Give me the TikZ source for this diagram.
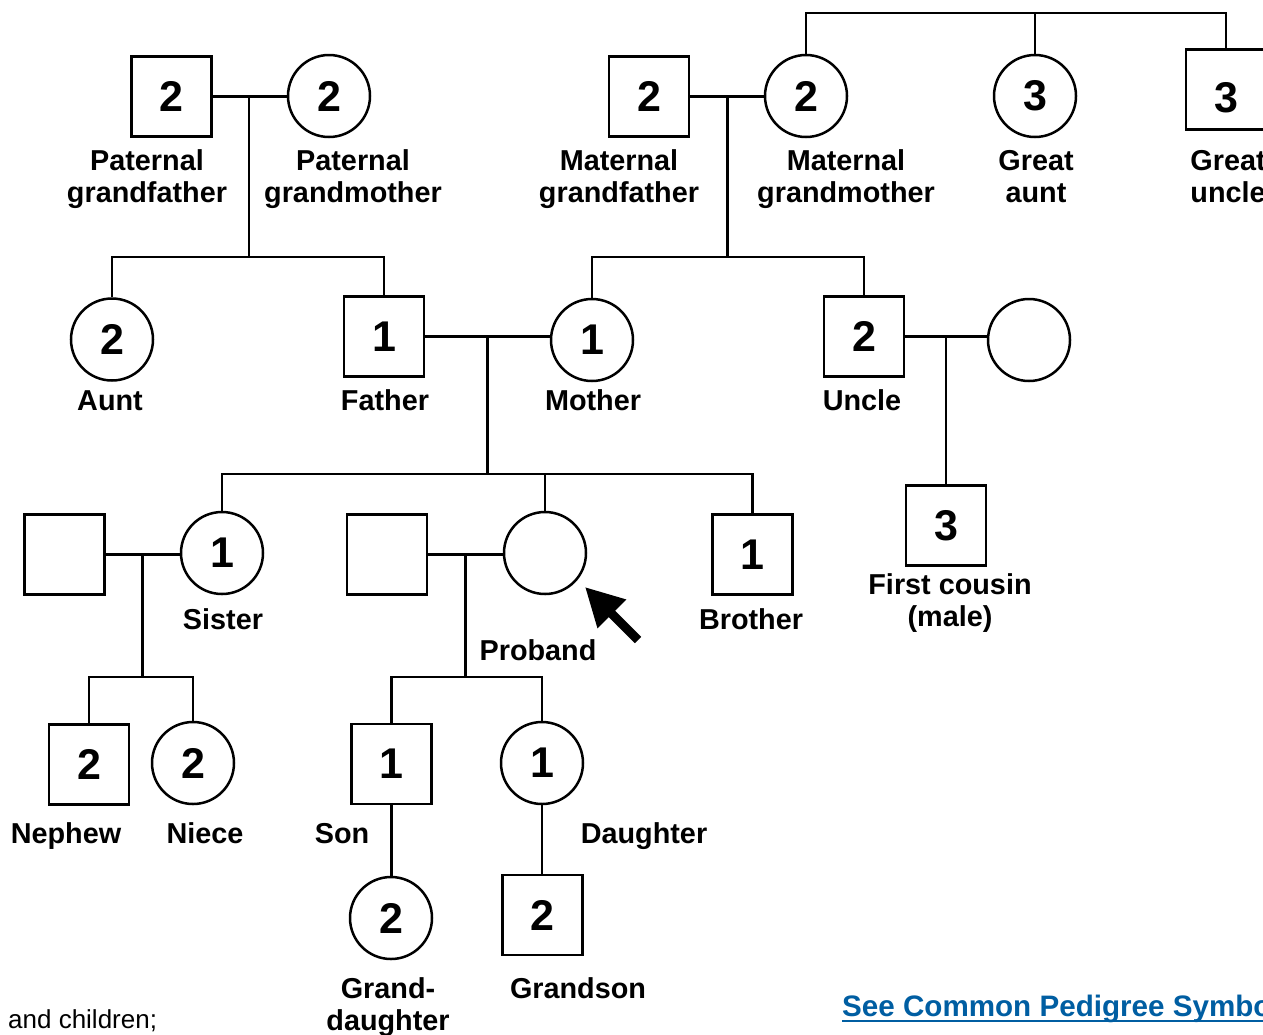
\documentclass[tikz,border=0pt]{standalone}
\usepackage{fontspec}
\setmainfont{Liberation Sans}
\usetikzlibrary{calc,arrows.meta}
\definecolor{linkblue}{HTML}{005EA2}
\newcommand{\pednum}{\bfseries\fontsize{43}{48}\selectfont}
\newcommand{\pedlab}{\bfseries\fontsize{28.8}{32}\selectfont}
\newcommand{\twolines}[2]{\begin{tabular}[t]{@{}c@{}}#1\\#2\end{tabular}}
\begin{document}
\begin{tikzpicture}[x=1pt,y=-1pt,
  pline/.style={line width=2.5pt},
  male/.style={draw, line width=2.5pt, rectangle, minimum size=80pt, inner sep=0pt, font=\pednum},
  female/.style={draw, line width=2.5pt, circle, minimum size=82pt, inner sep=0pt, font=\pednum},
  lab/.style={anchor=base, inner sep=0pt, font=\pedlab}]
\useasboundingbox (0,0) rectangle (1263,1034);
\fill[white] (0,0) rectangle (1263,1034);
\clip (0,0) rectangle (1263,1034);

% individuals
\node[male] (pgf) at (171.5,96.5) {2};
\node[female] (pgm) at (329,96) {2};
\node[male] (mgf) at (649,96.5) {2};
\node[female] (mgm) at (806,96) {2};
\node[female] (gaunt) at (1035,96) {3};
\node[male] (guncle) at (1226,89.5) {\raisebox{0pt}[45pt][0pt]{3}};
\node[female] (aunt) at (112,339.5) {2};
\node[male] (father) at (384,336.5) {1};
\node[female] (mother) at (592,340) {1};
\node[male] (uncle) at (864,336.5) {2};
\node[female] (uspouse) at (1029,340) {};
\node[male] (cousin) at (946,525.5) {3};
\node[male] (sspouse) at (64.5,554.5) {};
\node[female] (sister) at (222,553) {1};
\node[male] (pspouse) at (387,554.5) {};
\node[female] (proband) at (545,553) {};
\node[male] (brother) at (752.5,554.5) {1};
\node[male] (nephew) at (89,764.5) {2};
\node[female] (niece) at (193,763) {2};
\node[male] (son) at (391.5,764) {1};
\node[female] (daughter) at (542,763) {1};
\node[female] (gdaughter) at (391,918) {2};
\node[male] (grandson) at (542.5,915) {2};

% marriage lines
\draw[pline] (pgf.east) -- (pgf.east -| pgm.west);
\draw[pline] (mgf.east) -- (mgf.east -| mgm.west);
\draw[pline] (father.east) -- (father.east -| mother.west);
\draw[pline] (uncle.east) -- (uncle.east -| uspouse.west);
\draw[pline] (sspouse.east) -- (sspouse.east -| sister.west);
\draw[pline] (pspouse.east) -- (pspouse.east -| proband.west);

% descent points and sibship bars
\coordinate (m1) at (249,0 |- pgf.east);
\coordinate (b1) at (249,257);
\coordinate (m2) at (727.5,0 |- mgf.east);
\coordinate (b2) at (727.5,257);
\coordinate (m3) at (487.5,0 |- father.east);
\coordinate (b3) at (487.5,474);
\coordinate (m4) at (946,0 |- uncle.east);
\coordinate (m5) at (142.5,0 |- sspouse.east);
\coordinate (b5) at (142.5,677);
\coordinate (m6) at (465.5,0 |- pspouse.east);
\coordinate (b6) at (465.5,677);
\coordinate (gb) at (1035,13);

\draw[pline] (mgm.north) |- (gb) -| (guncle.north);
\draw[pline] (gaunt.north) -- (gb);

\draw[pline] (m1) -- (b1);
\draw[pline] (aunt.north) |- (b1) -| (father.north);

\draw[pline] (m2) -- (b2);
\draw[pline] (mother.north) |- (b2) -| (uncle.north);

\draw[pline] (m3) -- (b3);
\draw[pline] (sister.north) |- (b3) -| (brother.north);
\draw[pline] (proband.north) -- (proband.north |- b3);

\draw[pline] (m4) -- (cousin.north);

\draw[pline] (m5) -- (b5);
\draw[pline] (nephew.north) |- (b5) -| (niece.north);

\draw[pline] (m6) -- (b6);
\draw[pline] (son.north) |- (b6) -| (daughter.north);

\draw[pline] (son.south) -- (son.south |- gdaughter.north);
\draw[pline] (daughter.south) -- (daughter.south |- grandson.north);

% proband arrow
\coordinate (atail) at (638,640);
\coordinate (atip) at (585,587);
\draw[line width=9pt, -{Triangle[length=38pt,width=38pt]}] (atail) -- (atip);

% labels
\node[lab] (lpgf) at (147,170) {\twolines{Paternal}{grandfather}};
\node[lab] (lpgm) at (353,170) {\twolines{Paternal}{grandmother}};
\node[lab] (lmgf) at (619,170) {\twolines{Maternal}{grandfather}};
\node[lab] (lmgm) at (846,170) {\twolines{Maternal}{grandmother}};
\node[lab] (lgaunt) at (1036,170) {\twolines{Great}{aunt}};
\node[lab] (lguncle) at (1228,170) {\twolines{Great}{uncle}};
\node[lab] (launt) at (110,410) {Aunt};
\node[lab] (lfather) at (385,410) {Father};
\node[lab] (lmother) at (593,410) {Mother};
\node[lab] (luncle) at (862,410) {Uncle};
\node[lab] (lcousin) at (950,594) {\twolines{First cousin}{(male)}};
\node[lab] (lsister) at (223,629) {Sister};
\node[lab] (lproband) at (538,660) {Proband};
\node[lab] (lbrother) at (751,629) {Brother};
\node[lab] (lnephew) at (66,843) {Nephew};
\node[lab] (lniece) at (205,843) {Niece};
\node[lab] (lson) at (342,843) {Son};
\node[lab] (ldaughter) at (644,843) {Daughter};
\node[lab] (lgdaughter) at (388,998) {\twolines{Grand-}{daughter}};
\node[lab] (lgrandson) at (578,998) {Grandson};

% footer texts
\node[anchor=base west, inner sep=0pt, font=\fontsize{26}{32}\selectfont] (note) at (8,1028) {and children;};
\node[anchor=base west, inner sep=0pt, font=\bfseries\fontsize{29.6}{32}\selectfont, text=linkblue] (link) at (842,1016) {See Common Pedigree Symbols};
\draw[linkblue, line width=2pt] ([yshift=-4.5pt]link.base west) -- ([yshift=-4.5pt]link.base east);
\end{tikzpicture}
\end{document}
